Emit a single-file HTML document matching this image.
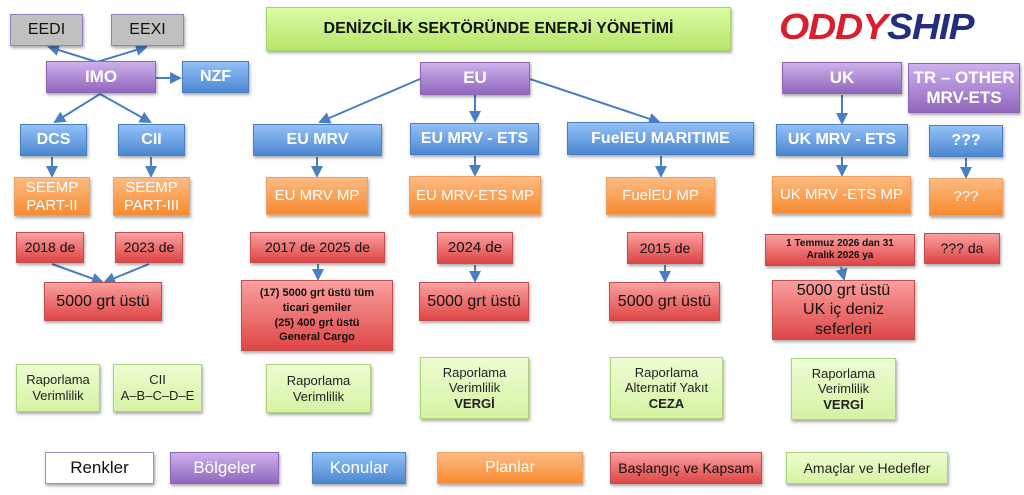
<!DOCTYPE html>
<html><head><meta charset="utf-8">
<style>
*{margin:0;padding:0;box-sizing:border-box}
body{width:1024px;height:495px;background:#fff;position:relative;overflow:hidden;font-family:"Liberation Sans",sans-serif}
.b{position:absolute;display:flex;align-items:center;justify-content:center;text-align:center;box-shadow:1px 2px 3px rgba(0,0,0,.35);line-height:1.2}
.b>span{display:block}
.g{background:#c0c0c0;border:1px solid #9a7fc0;color:#111;font-size:16px}
.p{background:linear-gradient(#cdb0ec,#9168bd);border:1px solid #8a66b5;color:#fff;font-weight:bold;font-size:17px}
.u{background:linear-gradient(#93c1f7,#4c87d2);border:1px solid #4a7fc4;color:#fff;font-weight:bold;font-size:16px}
.o{background:linear-gradient(#fdbb82,#f78a30);border:1px solid #f0a060;color:#fff;font-size:15px}
.r{background:linear-gradient(#fb9f9f,#de4646);border:1px solid #c05050;color:#111;font-size:14px}
.n{background:linear-gradient(#eefdd2,#d6f2a4);border:1px solid #a9d37c;color:#222;font-size:13px}
.t{background:linear-gradient(#dcfca6,#b6e56a);border:1px solid #a6d46a;color:#111;font-weight:bold;font-size:16px}
.w{background:#fff;border:1px solid #a58cc8;color:#111;font-size:17px}
svg{position:absolute;left:0;top:0}
</style></head><body>
<svg width="1024" height="495">
<defs><marker id="a" markerWidth="6" markerHeight="6" refX="5" refY="3" orient="auto"><path d="M0,0L6,3L0,6z" fill="#4a7fc4"/></marker></defs>
<g stroke="#4a7fc4" stroke-width="2" fill="none" marker-end="url(#a)">
<line x1="97" y1="62" x2="49" y2="47"/>
<line x1="97" y1="62" x2="146" y2="47"/>
<line x1="156" y1="78" x2="180" y2="78"/>
<line x1="100" y1="94" x2="55" y2="122"/>
<line x1="100" y1="94" x2="150" y2="122"/>
<line x1="52" y1="157" x2="52" y2="176"/>
<line x1="151" y1="157" x2="151" y2="176"/>
<line x1="52" y1="264" x2="102" y2="282"/>
<line x1="149" y1="264" x2="105" y2="282"/>
<line x1="420" y1="79" x2="320" y2="122"/>
<line x1="475" y1="95" x2="475" y2="121"/>
<line x1="530" y1="79" x2="659" y2="122"/>
<line x1="317" y1="157" x2="317" y2="176"/>
<line x1="475" y1="156" x2="475" y2="175"/>
<line x1="661" y1="156" x2="661" y2="176"/>
<line x1="318" y1="264" x2="318" y2="279"/>
<line x1="475" y1="265" x2="475" y2="281"/>
<line x1="665" y1="265" x2="665" y2="281"/>
<line x1="842" y1="95" x2="842" y2="123"/>
<line x1="842" y1="157" x2="842" y2="175"/>
<line x1="966" y1="158" x2="966" y2="177"/>
<line x1="841" y1="267" x2="844" y2="279"/>
</g></svg>

<div class="b g" style="left:10px;top:14px;width:73px;height:32px">EEDI</div>
<div class="b g" style="left:111px;top:14px;width:73px;height:32px">EEXI</div>
<div class="b t" style="left:266px;top:7px;width:465px;height:44px">DENİZCİLİK SEKTÖRÜNDE ENERJİ YÖNETİMİ</div>
<div style="position:absolute;left:779px;top:6px;font:italic 900 36px 'Liberation Sans',sans-serif;letter-spacing:-1px;transform:scaleX(1.08);transform-origin:left"><span style="color:#d91e2e">ODDY</span><span style="color:#232f7d">SHIP</span></div>

<div class="b p" style="left:46px;top:61px;width:110px;height:32px">IMO</div>
<div class="b u" style="left:182px;top:61px;width:67px;height:32px">NZF</div>
<div class="b p" style="left:420px;top:62px;width:110px;height:33px">EU</div>
<div class="b p" style="left:782px;top:62px;width:120px;height:32px">UK</div>
<div class="b p" style="left:908px;top:63px;width:112px;height:50px"><span>TR – OTHER<br>MRV-ETS</span></div>

<div class="b u" style="left:20px;top:124px;width:67px;height:32px">DCS</div>
<div class="b u" style="left:118px;top:124px;width:67px;height:32px">CII</div>
<div class="b u" style="left:253px;top:124px;width:129px;height:32px">EU MRV</div>
<div class="b u" style="left:410px;top:123px;width:129px;height:32px">EU MRV - ETS</div>
<div class="b u" style="left:567px;top:122px;width:187px;height:33px">FuelEU MARITIME</div>
<div class="b u" style="left:776px;top:124px;width:132px;height:32px">UK MRV - ETS</div>
<div class="b u" style="left:929px;top:125px;width:74px;height:32px">???</div>

<div class="b o" style="left:14px;top:177px;width:76px;height:39px"><span>SEEMP<br>PART-II</span></div>
<div class="b o" style="left:113px;top:177px;width:77px;height:39px"><span>SEEMP<br>PART-III</span></div>
<div class="b o" style="left:266px;top:177px;width:102px;height:38px">EU MRV MP</div>
<div class="b o" style="left:409px;top:176px;width:132px;height:39px">EU MRV-ETS MP</div>
<div class="b o" style="left:606px;top:177px;width:109px;height:38px">FuelEU MP</div>
<div class="b o" style="left:772px;top:176px;width:139px;height:38px">UK MRV -ETS MP</div>
<div class="b o" style="left:929px;top:178px;width:74px;height:38px">???</div>

<div class="b r" style="left:16px;top:232px;width:68px;height:31px">2018 de</div>
<div class="b r" style="left:115px;top:232px;width:68px;height:31px">2023 de</div>
<div class="b r" style="left:250px;top:232px;width:135px;height:31px">2017 de 2025 de</div>
<div class="b r" style="left:437px;top:232px;width:76px;height:32px;font-size:15px">2024 de</div>
<div class="b r" style="left:627px;top:232px;width:76px;height:32px">2015 de</div>
<div class="b r" style="left:765px;top:234px;width:150px;height:32px;font-size:10px;font-weight:bold"><span>1 Temmuz 2026 dan 31<br>Aralık 2026 ya</span></div>
<div class="b r" style="left:924px;top:233px;width:76px;height:31px">??? da</div>

<div class="b r" style="left:44px;top:282px;width:118px;height:39px;font-size:16px">5000 grt üstü</div>
<div class="b r" style="left:241px;top:280px;width:152px;height:71px;font-size:11px;font-weight:bold;line-height:1.35"><span>(17) 5000 grt üstü tüm<br>ticari gemiler<br>(25) 400 grt üstü<br>General Cargo</span></div>
<div class="b r" style="left:419px;top:282px;width:110px;height:39px;font-size:16px">5000 grt üstü</div>
<div class="b r" style="left:609px;top:282px;width:111px;height:39px;font-size:16px">5000 grt üstü</div>
<div class="b r" style="left:772px;top:280px;width:143px;height:60px;font-size:16px;line-height:1.2"><span>5000 grt üstü<br>UK iç deniz<br>seferleri</span></div>

<div class="b n" style="left:16px;top:364px;width:84px;height:48px"><span>Raporlama<br>Verimlilik</span></div>
<div class="b n" style="left:113px;top:364px;width:89px;height:48px"><span>CII<br>A–B–C–D–E</span></div>
<div class="b n" style="left:266px;top:364px;width:105px;height:49px"><span>Raporlama<br>Verimlilik</span></div>
<div class="b n" style="left:420px;top:357px;width:109px;height:62px"><span>Raporlama<br>Verimlilik<br><b>VERGİ</b></span></div>
<div class="b n" style="left:610px;top:357px;width:113px;height:62px"><span>Raporlama<br>Alternatif Yakıt<br><b>CEZA</b></span></div>
<div class="b n" style="left:791px;top:358px;width:105px;height:62px"><span>Raporlama<br>Verimlilik<br><b>VERGİ</b></span></div>

<div class="b w" style="left:45px;top:452px;width:109px;height:32px">Renkler</div>
<div class="b p" style="left:170px;top:452px;width:109px;height:32px;font-weight:normal;font-size:17px">Bölgeler</div>
<div class="b u" style="left:312px;top:452px;width:94px;height:32px;font-weight:normal;font-size:17px">Konular</div>
<div class="b o" style="left:437px;top:452px;width:146px;height:32px;font-size:16px">Planlar</div>
<div class="b r" style="left:610px;top:452px;width:152px;height:32px">Başlangıç  ve Kapsam</div>
<div class="b n" style="left:786px;top:452px;width:162px;height:32px;font-size:14px">Amaçlar ve Hedefler</div>
</body></html>
